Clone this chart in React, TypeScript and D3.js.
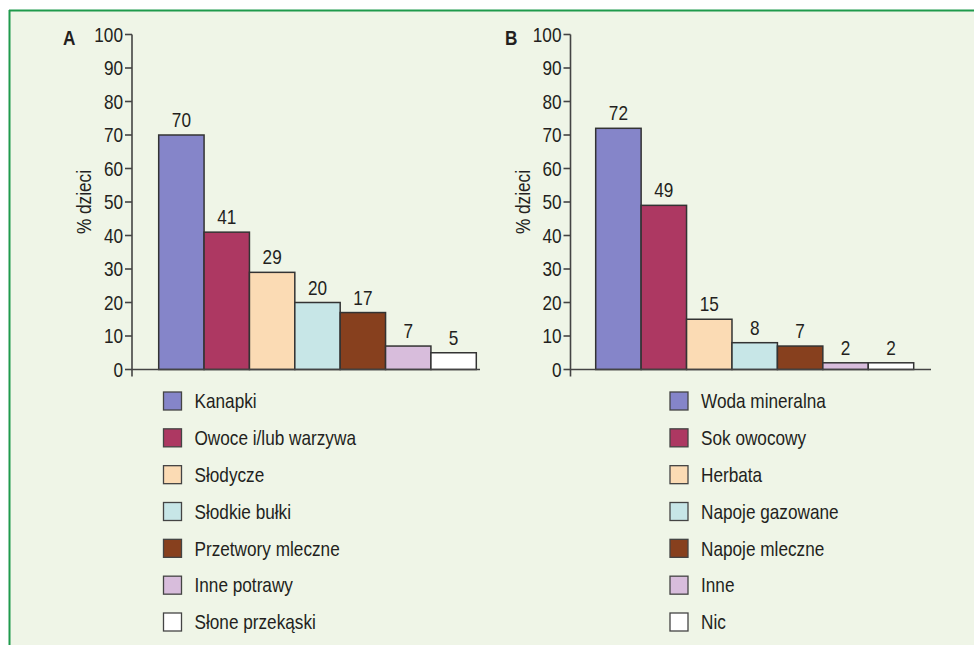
import React from "react";
import * as d3 from "d3";

const catsA = ["Kanapki", "Owoce i/lub warzywa", "Słodycze", "Słodkie bułki", "Przetwory mleczne", "Inne potrawy", "Słone przekąski"];
const valsA = [70, 41, 29, 20, 17, 7, 5];
const catsB = ["Woda mineralna", "Sok owocowy", "Herbata", "Napoje gazowane", "Napoje mleczne", "Inne", "Nic"];
const valsB = [72, 49, 15, 8, 7, 2, 2];
const colors = ["#8585c9", "#ad3862", "#fbdbb4", "#c7e6e7", "#87401e", "#d8bddc", "#ffffff"];
const yTicks = [0, 10, 20, 30, 40, 50, 60, 70, 80, 90, 100];
const yLabel = "% dzieci";

const FONT = "'Liberation Sans', Arial, sans-serif";
const SX = 0.86;

type TProps = {
  x: number; y: number; anchor?: "start" | "middle" | "end"; rotate?: number; bold?: boolean; dy?: string; size?: number; children: React.ReactNode;
};

function T({ x, y, anchor = "start", rotate = 0, bold = false, dy, size = 20, children }: TProps) {
  return (
    <text transform={`translate(${x},${y}) rotate(${rotate}) scale(${SX},1)`} textAnchor={anchor} dy={dy}
      fontFamily={FONT} fontSize={size} fontWeight={bold ? "bold" : "normal"} fill="#231f20">{children}</text>
  );
}

type PanelProps = {
  letter: string;
  letterX: number;
  cats: string[];
  vals: number[];
  axisX: number;
  barStart: number;
  barEnd: number;
  baseEnd: number;
  legendX: number;
};

const y = d3.scaleLinear().domain([0, 100]).range([369.5, 34.5]);

function Panel({ letter, letterX, cats, vals, axisX, barStart, barEnd, baseEnd, legendX }: PanelProps) {
  const x = d3.scaleBand<string>().domain(cats).range([barStart, barEnd]).padding(0);
  const legendY = d3.scaleLinear().domain([0, cats.length - 1]).range([401, 622]);
  const axisColor = "#444";
  return (
    <g>
      <T x={letterX} y={45} bold size={20}>{letter}</T>
      <T x={axisX - 41} y={202} anchor="middle" rotate={-90}>{yLabel}</T>
      {cats.map((c, i) => (
        <rect key={c} x={x(c)} y={y(vals[i])} width={x.bandwidth()} height={y(0) - y(vals[i])}
          fill={colors[i]} stroke="#333" strokeWidth={1.5} />
      ))}
      {cats.map((c, i) => (
        <T key={"v" + c} x={(x(c) as number) + x.bandwidth() / 2} y={y(vals[i]) - 8} anchor="middle">{vals[i]}</T>
      ))}
      <line x1={axisX} x2={axisX} y1={y(100)} y2={y(0) + 7} stroke={axisColor} strokeWidth={1.6} />
      <line x1={axisX} x2={baseEnd} y1={y(0)} y2={y(0)} stroke={axisColor} strokeWidth={1.6} />
      {yTicks.map(t => (
        <g key={t}>
          <line x1={axisX - 7} x2={axisX} y1={y(t)} y2={y(t)} stroke={axisColor} strokeWidth={1.6} />
          <T x={axisX - 9} y={y(t)} dy="0.36em" anchor="end">{t}</T>
        </g>
      ))}
      {cats.map((c, i) => (
        <g key={"l" + c}>
          <rect x={legendX} y={legendY(i) - 9} width={18} height={18} fill={colors[i]} stroke="#444" strokeWidth={1.3} />
          <T x={legendX + 31} y={legendY(i)} dy="0.36em">{c}</T>
        </g>
      ))}
    </g>
  );
}

export default function App() {
  return (
    <svg width={974} height={645} style={{ position: "fixed", left: 0, top: 0, display: "block" }}>
      <rect x={0} y={0} width={974} height={645} fill="#ffffff" />
      <rect x={9} y={10} width={980} height={650} fill="#eff5e7" />
      <line x1={9} x2={974} y1={10.5} y2={10.5} stroke="#1f9a4c" strokeWidth={2} />
      <line x1={9.5} x2={9.5} y1={10} y2={645} stroke="#1f9a4c" strokeWidth={2} />
      <Panel letter="A" letterX={63} cats={catsA} vals={valsA} axisX={132} barStart={158.7} barEnd={476.3} baseEnd={480} legendX={163.5} />
      <Panel letter="B" letterX={505} cats={catsB} vals={valsB} axisX={570.5} barStart={595.7} barEnd={913.7} baseEnd={931} legendX={670} />
    </svg>
  );
}
